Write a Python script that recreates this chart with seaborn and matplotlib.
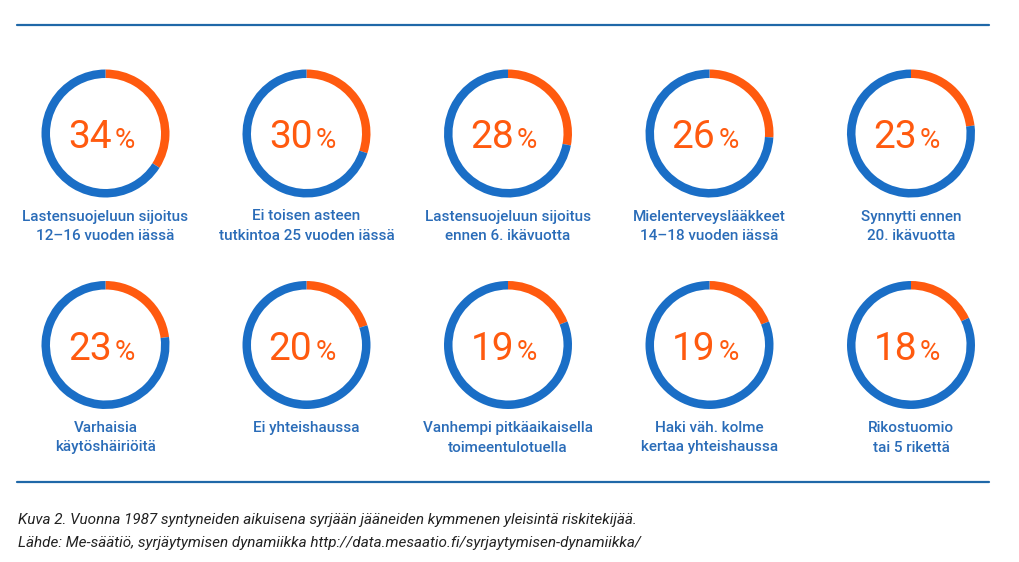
import seaborn as sns
import matplotlib.pyplot as plt

# share of the 1987 cohort with each risk factor (%)
shares = [34, 30, 28, 26, 23, 23, 20, 19, 19, 18]
labels = [
    'Lastensuojeluun sijoitus\n12–16 vuoden iässä',
    'Ei toisen asteen\ntutkintoa 25 vuoden iässä',
    'Lastensuojeluun sijoitus\nennen 6. ikävuotta',
    'Mielenterveyslääkkeet\n14–18 vuoden iässä',
    'Synnytti ennen\n20. ikävuotta',
    'Varhaisia\nkäytöshäiriöitä',
    'Ei yhteishaussa',
    'Vanhempi pitkäaikaisella\ntoimeentulotuella',
    'Haki väh. kolme\nkertaa yhteishaussa',
    'Rikostuomio\ntai 5 rikettä',
]
caption = [
    'Kuva 2. Vuonna 1987 syntyneiden aikuisena syrjään jääneiden kymmenen yleisintä riskitekijää.',
    'Lähde: Me-säätiö, syrjäytymisen dynamiikka http://data.mesaatio.fi/syrjaytymisen-dynamiikka/',
]

sns.set_theme(style='white')
plt.rcParams['font.family'] = ['Roboto', 'DejaVu Sans']
orange, blue = sns.color_palette(['#ff5a0f', '#1a6ec6'])
line_col = '#1f68a8'
text_blue = '#2a6cb8'

W, H = 1020, 562
fig = plt.figure(figsize=(W / 100, H / 100), dpi=100)
bg = fig.add_axes([0, 0, 1, 1])
bg.set_xlim(0, W)
bg.set_ylim(H, 0)
bg.axis('off')

# horizontal rules
bg.plot([17, 989], [24.5, 24.5], color=line_col, lw=1.6)
bg.plot([17, 989], [482, 482], color=line_col, lw=1.6)

col_x = [105.5, 306.5, 508, 709.5, 911]
row_y = [133.5, 345]
R = 64
ring = 8.5

for i, (val, lab) in enumerate(zip(shares, labels)):
    cx = col_x[i % 5]
    cy = row_y[i // 5]
    ax = fig.add_axes([(cx - R) / W, 1 - (cy + R) / H, 2 * R / W, 2 * R / H])
    ax.pie([val, 100 - val], colors=[orange, blue], startangle=90,
           counterclock=False, radius=1,
           wedgeprops=dict(width=ring / R, linewidth=0))
    ax.set_xlim(-1, 1)
    ax.set_ylim(-1, 1)
    ax.axis('off')

    bg.text(cx + 6, cy + 14.5, str(val), ha='right', va='baseline',
            fontsize=28, color=orange, fontweight='normal')
    bg.text(cx + 9, cy + 14.5, '%', ha='left', va='baseline',
            fontsize=20, color=orange, fontweight='normal')
    bg.text(cx, cy + 76, lab, ha='center', va='top', fontsize=11,
            color=text_blue, fontweight='medium', linespacing=1.5)

bg.text(18, 520, caption[0], ha='left', va='center', fontsize=11,
        style='italic', color='#222222')
bg.text(18, 543, caption[1], ha='left', va='center', fontsize=11,
        style='italic', color='#222222')

fig.savefig('out.png', dpi=100)
